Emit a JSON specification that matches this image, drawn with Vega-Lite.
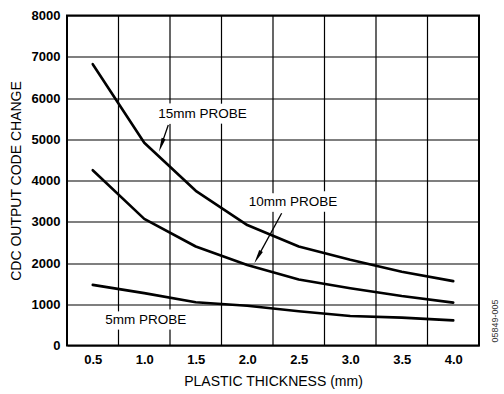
{
  "$schema": "https://vega.github.io/schema/vega-lite/v6.json",
  "autosize": "none",
  "width": 412,
  "height": 330,
  "padding": {"left": 67, "top": 15.5, "right": 25, "bottom": 48.5},
  "background": "white",
  "config": {
    "view": {"stroke": "black", "strokeWidth": 2},
    "axis": {
      "labelFont": "Liberation Sans",
      "labelFontSize": 13,
      "labelFontWeight": "bold",
      "labelColor": "black",
      "titleFont": "Liberation Sans",
      "titleFontSize": 14,
      "titleFontWeight": "normal",
      "titleColor": "black",
      "ticks": false,
      "domain": false
    }
  },
  "datasets": {
    "curves": [
      {"probe": "15mm", "t": 0.5, "v": 6820},
      {"probe": "15mm", "t": 1.0, "v": 4916},
      {"probe": "15mm", "t": 1.5, "v": 3750},
      {"probe": "15mm", "t": 2.0, "v": 2920},
      {"probe": "15mm", "t": 2.5, "v": 2400},
      {"probe": "15mm", "t": 3.0, "v": 2080},
      {"probe": "15mm", "t": 3.5, "v": 1790},
      {"probe": "15mm", "t": 4.0, "v": 1560},
      {"probe": "10mm", "t": 0.5, "v": 4250},
      {"probe": "10mm", "t": 1.0, "v": 3070},
      {"probe": "10mm", "t": 1.5, "v": 2400},
      {"probe": "10mm", "t": 2.0, "v": 1950},
      {"probe": "10mm", "t": 2.5, "v": 1600},
      {"probe": "10mm", "t": 3.0, "v": 1390},
      {"probe": "10mm", "t": 3.5, "v": 1200},
      {"probe": "10mm", "t": 4.0, "v": 1040},
      {"probe": "5mm", "t": 0.5, "v": 1470},
      {"probe": "5mm", "t": 1.0, "v": 1270},
      {"probe": "5mm", "t": 1.5, "v": 1050},
      {"probe": "5mm", "t": 2.0, "v": 965},
      {"probe": "5mm", "t": 2.5, "v": 830},
      {"probe": "5mm", "t": 3.0, "v": 715},
      {"probe": "5mm", "t": 3.5, "v": 675},
      {"probe": "5mm", "t": 4.0, "v": 610}
    ],
    "labels": [
      {"t": 1.5655, "v": 5612, "text": "15mm PROBE"},
      {"t": 2.445, "v": 3479, "text": "10mm PROBE"},
      {"t": 1.014, "v": 611, "text": "5mm PROBE"}
    ]
  },
  "layer": [
    {
      "data": {"values": [{"g": 0.75}, {"g": 1.25}, {"g": 1.75}, {"g": 2.25}, {"g": 2.75}, {"g": 3.25}, {"g": 3.75}]},
      "mark": {"type": "rule", "color": "black", "strokeWidth": 1.2},
      "encoding": {
        "x": {
          "field": "g",
          "type": "quantitative",
          "scale": {"domain": [0.25, 4.25], "nice": false, "zero": false},
          "axis": {
            "values": [0.5, 1.0, 1.5, 2.0, 2.5, 3.0, 3.5, 4.0],
            "format": ".1f",
            "grid": false,
            "labelPadding": 8,
            "title": "PLASTIC THICKNESS (mm)",
            "titlePadding": 8
          }
        }
      }
    },
    {
      "data": {"name": "curves"},
      "mark": {"type": "line", "color": "black", "strokeWidth": 2.6, "strokeCap": "round", "strokeJoin": "round"},
      "encoding": {
        "x": {"field": "t", "type": "quantitative"},
        "y": {
          "field": "v",
          "type": "quantitative",
          "scale": {"domain": [0, 8000], "nice": false},
          "axis": {
            "values": [0, 1000, 2000, 3000, 4000, 5000, 6000, 7000, 8000],
            "format": "d",
            "grid": true,
            "gridColor": "black",
            "gridWidth": 1.2,
            "gridOpacity": 1,
            "labelPadding": 7,
            "title": "CDC OUTPUT CODE CHANGE",
            "titlePadding": 8
          }
        },
        "detail": {"field": "probe"}
      }
    },
    {
      "data": {"name": "labels"},
      "mark": {"type": "text", "font": "Liberation Sans", "fontSize": 13.5, "align": "center", "baseline": "middle", "stroke": "white", "strokeWidth": 11, "fill": "white"},
      "encoding": {
        "x": {"field": "t", "type": "quantitative"},
        "y": {"field": "v", "type": "quantitative"},
        "text": {"field": "text"}
      }
    },
    {
      "data": {"name": "labels"},
      "mark": {"type": "text", "font": "Liberation Sans", "fontSize": 13.5, "align": "center", "baseline": "middle", "fill": "black"},
      "encoding": {
        "x": {"field": "t", "type": "quantitative"},
        "y": {"field": "v", "type": "quantitative"},
        "text": {"field": "text"}
      }
    },
    {
      "data": {"values": [
        {"t": 1.2335, "v": 5345, "t2": 1.1655, "v2": 4858},
        {"t": 2.334, "v": 3205, "t2": 2.1014, "v2": 2141}
      ]},
      "mark": {"type": "rule", "color": "black", "strokeWidth": 1.3},
      "encoding": {
        "x": {"field": "t", "type": "quantitative"},
        "y": {"field": "v", "type": "quantitative"},
        "x2": {"field": "t2"},
        "y2": {"field": "v2"}
      }
    },
    {
      "data": {"values": [{"t": 1.1655, "v": 4858}]},
      "mark": {"type": "point", "shape": "M0,-1L0.3,1L-0.3,1Z", "filled": true, "color": "black", "opacity": 1, "size": 196, "angle": 199},
      "encoding": {
        "x": {"field": "t", "type": "quantitative"},
        "y": {"field": "v", "type": "quantitative"}
      }
    },
    {
      "data": {"values": [{"t": 2.1014, "v": 2141}]},
      "mark": {"type": "point", "shape": "M0,-1L0.3,1L-0.3,1Z", "filled": true, "color": "black", "opacity": 1, "size": 196, "angle": 208.7},
      "encoding": {
        "x": {"field": "t", "type": "quantitative"},
        "y": {"field": "v", "type": "quantitative"}
      }
    },
    {
      "data": {"values": [{"t": 4.405, "v": 594, "text": "05849-005"}]},
      "mark": {"type": "text", "font": "Liberation Sans", "fontSize": 9, "angle": 270, "align": "center", "baseline": "middle", "fill": "#333333"},
      "encoding": {
        "x": {"field": "t", "type": "quantitative"},
        "y": {"field": "v", "type": "quantitative"},
        "text": {"field": "text"}
      }
    }
  ]
}
